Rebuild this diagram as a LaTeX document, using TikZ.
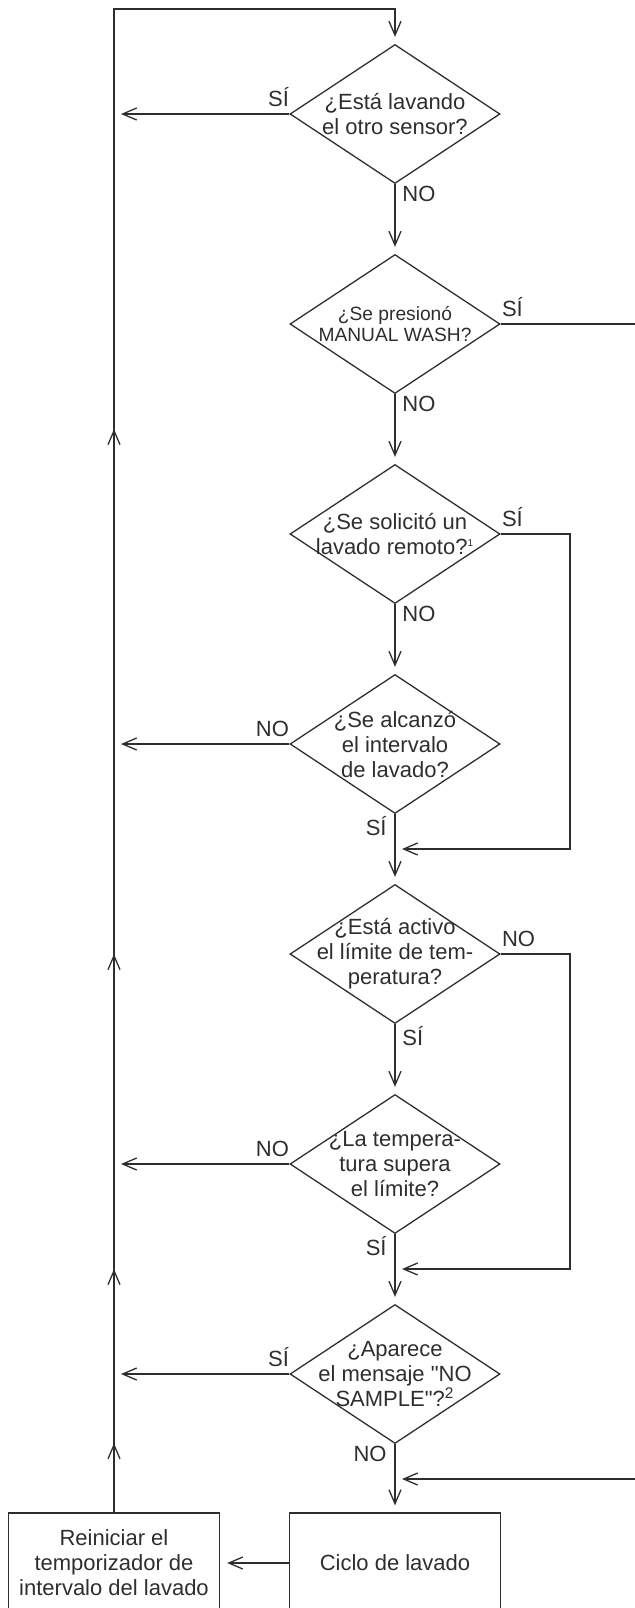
\documentclass[tikz,border=0pt]{standalone}
\usepackage{fontspec}
\setmainfont{Liberation Sans}[Ligatures=TeXOff]
\usetikzlibrary{shapes.geometric,arrows.meta,decorations.markings}
\definecolor{ink}{HTML}{2E2E2E}

\begin{document}
\begin{tikzpicture}[x=0.5pt,y=-0.5pt,
  every node/.style={text=ink,font=\fontsize{11}{12.5}\selectfont},
  decision/.style={diamond,draw=ink,line width=0.65pt,minimum width=105pt,minimum height=69.5pt,inner sep=0pt},
  qtext/.style={align=center,inner sep=0pt},
  block/.style={rectangle,draw=ink,line width=0.65pt,minimum width=105.5pt,minimum height=50pt,align=center},
  line/.style={draw=ink,line width=0.65pt},
  flow/.style={line,-{Straight Barb[length=7pt,width=6pt]},shorten >=3.5pt},
  midarrow/.style={line,postaction={decorate},
    decoration={markings,mark=at position 0.5 with {\arrow{Straight Barb[length=7pt,width=6pt]}}}},
  lw/.style={anchor=south east,inner sep=0pt,yshift=3.5pt},
  le/.style={anchor=south west,inner sep=0pt,xshift=0.5pt,yshift=3.5pt},
  lbr/.style={anchor=north west,inner sep=0pt,xshift=3.5pt,yshift=-1pt},
  lbl/.style={anchor=north east,inner sep=0pt,xshift=-4pt,yshift=-1pt}]
\useasboundingbox (0,0) rectangle (634,1608);

\node[decision] (d1) at (395,114) {};
\node[decision] (d2) at (395,324) {};
\node[decision] (d3) at (395,534) {};
\node[decision] (d4) at (395,744) {};
\node[decision] (d5) at (395,954) {};
\node[decision] (d6) at (395,1164) {};
\node[decision] (d7) at (395,1374) {};
\node[block] (wash) at (395,1563) {Ciclo de lavado};
\node[block] (reset) at (114,1563) {Reiniciar el\\temporizador de\\intervalo del lavado};

\node[qtext] (q1) at (d1) {¿Está lavando\\el otro sensor?};
\node[qtext,font=\fontsize{9.6}{10.5}\selectfont] (q2) at (d2) {¿Se presionó\\MANUAL WASH?};
\node[qtext] (q3) at (d3) {¿Se solicitó un\\lavado remoto?\textsuperscript{\tiny 1}};
\node[qtext] (q4) at (d4) {¿Se alcanzó\\el intervalo\\de lavado?};
\node[qtext] (q5) at (d5) {¿Está activo\\el límite de tem-\\peratura?};
\node[qtext] (q6) at (d6) {¿La tempera-\\tura supera\\el límite?};
\node[qtext] (q7) at (d7) {¿Aparece\\el mensaje "NO\\SAMPLE"?\textsuperscript{2}};

\coordinate (top) at (395,9);
\coordinate (l1) at (114,114);
\coordinate (l4) at (114,744);
\coordinate (l6) at (114,1164);
\coordinate (l7) at (114,1374);
\coordinate (j3) at (395,849);
\coordinate (j5) at (395,1269);
\coordinate (j2) at (395,1479);

\draw[flow] (d1.south) -- (d2.north);
\draw[flow] (d2.south) -- (d3.north);
\draw[flow] (d3.south) -- (d4.north);
\draw[flow] (d4.south) -- (d5.north);
\draw[flow] (d5.south) -- (d6.north);
\draw[flow] (d6.south) -- (d7.north);
\draw[flow] (d7.south) -- (wash.north);
\draw[flow] (wash.west) -- (reset.east);

\draw[flow] (d1.west) -- (l1);
\draw[flow] (d4.west) -- (l4);
\draw[flow] (d6.west) -- (l6);
\draw[flow] (d7.west) -- (l7);
\draw[midarrow] (reset.north) -- (l7);
\draw[midarrow] (l7) -- (l6);
\draw[midarrow] (l6) -- (l4);
\draw[midarrow] (l4) -- (l1);
\draw[flow] (l1) |- (top) -- (d1.north);

\draw[flow] (d3.east) -| (570,849) -- (j3);
\draw[flow] (d5.east) -| (570,1269) -- (j5);
\draw[flow] (d2.east) -| (640,1479) -- (j2);

\node[lw] (a1) at (d1.west) {SÍ};
\node[lbr] (b1) at (d1.south) {NO};
\node[le] (a2) at (d2.east) {SÍ};
\node[lbr] (b2) at (d2.south) {NO};
\node[le] (a3) at (d3.east) {SÍ};
\node[lbr] (b3) at (d3.south) {NO};
\node[lw] (a4) at (d4.west) {NO};
\node[lbl] (b4) at (d4.south) {SÍ};
\node[le] (a5) at (d5.east) {NO};
\node[lbr] (b5) at (d5.south) {SÍ};
\node[lw] (a6) at (d6.west) {NO};
\node[lbl] (b6) at (d6.south) {SÍ};
\node[lw] (a7) at (d7.west) {SÍ};
\node[lbl] (b7) at (d7.south) {NO};
\end{tikzpicture}
\end{document}
